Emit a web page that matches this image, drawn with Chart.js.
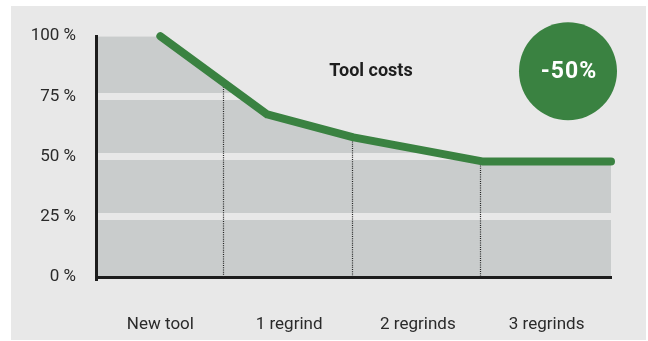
<!DOCTYPE html>
<html>
<head>
<meta charset="utf-8">
<script src="https://cdn.jsdelivr.net/npm/chart.js@4/dist/chart.umd.min.js"></script>
<style>
  body { margin: 0; background: #fff; }
  #wrap { position: absolute; left: 11px; top: 6px; width: 635px; height: 334px; background: #e8e8e8; }
</style>
</head>
<body>
<div id="wrap"><canvas id="costChart" width="635" height="334"></canvas></div>
<script>
// categories along the bottom
var stages = ['New tool', '1 regrind', '2 regrinds', '3 regrinds'];
// cost curve: position along the stages (0..4) and cost in %
var costX = [0.5, 1.33, 2, 3, 4];
var costY = [100, 67.5, 58, 48, 48];
var yTicks = [0, 25, 50, 75, 100];
var titleText = 'Tool costs';
var savingText = '-50%';

var green = '#3a8241';
var areaGray = '#c9cccc';
var bgGray = '#e8e8e8';

var linePoints = costX.map(function(x, i) { return { x: x, y: costY[i] }; });
// the shaded area starts at the axis at the first cost level
var areaPoints = [{ x: 0, y: costY[0] }].concat(linePoints);

// dotted separators between the stages, from the axis up to the curve
var stageLines = {
    id: 'stageLines',
    beforeDatasetsDraw: function(chart) {
        var ctx = chart.ctx;
        var xs = chart.scales.x;
        var pts = chart.getDatasetMeta(1).data;
        var bottom = chart.chartArea.bottom;
        ctx.save();
        ctx.strokeStyle = '#222';
        ctx.lineWidth = 1.2;
        ctx.setLineDash([1, 1.2]);
        for (var b = 1; b < stages.length; b++) {
            var px = Math.round(xs.getPixelForValue(b)) - 1.5;
            var top = bottom;
            for (var i = 0; i < pts.length - 1; i++) {
                if (pts[i].x <= px && pts[i + 1].x >= px) {
                    var t = (px - pts[i].x) / (pts[i + 1].x - pts[i].x);
                    top = pts[i].y + t * (pts[i + 1].y - pts[i].y);
                }
            }
            ctx.beginPath();
            ctx.moveTo(px, top);
            ctx.lineTo(px, bottom);
            ctx.stroke();
        }
        ctx.restore();
    }
};

// title and the green badge
var annotations = {
    id: 'annotations',
    afterDraw: function(chart) {
        var ctx = chart.ctx;
        var a = chart.chartArea;
        ctx.save();
        ctx.fillStyle = '#1e1e1e';
        ctx.font = 'bold 18px Roboto';
        ctx.textAlign = 'center';
        ctx.textBaseline = 'middle';
        ctx.fillText(titleText, a.left + 275, a.top + 35);

        ctx.beginPath();
        ctx.arc(a.left + 472, a.top + 35, 49, 0, Math.PI * 2);
        ctx.fillStyle = green;
        ctx.fill();
        ctx.fillStyle = '#fff';
        ctx.font = 'bold 23px Roboto';
        ctx.letterSpacing = '1px';
        ctx.fillText(savingText, a.left + 473, a.top + 36);
        ctx.restore();
    }
};

var ctx = document.getElementById('costChart').getContext('2d');
var costChart = new Chart(ctx, {
    type: 'line',
    data: {
        datasets: [{
            data: areaPoints,
            borderWidth: 0,
            pointRadius: 0,
            backgroundColor: areaGray,
            fill: 'origin'
        }, {
            data: linePoints,
            borderColor: green,
            borderWidth: 8,
            borderCapStyle: 'round',
            borderJoinStyle: 'round',
            pointRadius: 0,
            clip: false,
            fill: false
        }]
    },
    options: {
        responsive: false,
        animation: false,
        layout: { padding: { top: 27, right: 35, left: 0, bottom: 0 } },
        plugins: {
            legend: { display: false },
            tooltip: { enabled: false },
            filler: { drawTime: 'beforeDraw' }
        },
        scales: {
            x: {
                type: 'linear',
                min: 0,
                max: stages.length,
                afterBuildTicks: function(scale) {
                    scale.ticks = stages.map(function(s, i) { return { value: i + 0.5 }; });
                },
                afterFit: function(scale) { scale.height = 63; },
                grid: { display: false, drawTicks: false },
                border: { display: true, color: '#1c1c1c', width: 3 },
                ticks: {
                    padding: 38,
                    color: '#2a2a2a',
                    font: { family: 'Roboto', size: 17 },
                    callback: function(v) { return stages[Math.floor(v)]; }
                }
            },
            y: {
                min: 0,
                max: 100,
                afterBuildTicks: function(scale) {
                    scale.ticks = yTicks.map(function(v) { return { value: v }; });
                },
                afterFit: function(scale) { scale.width = 85; },
                grid: {
                    drawTicks: false,
                    lineWidth: 7,
                    color: function(c) {
                        var v = c.tick ? c.tick.value : 0;
                        return (v > 0 && v < 100) ? bgGray : 'transparent';
                    }
                },
                border: { display: true, color: '#1c1c1c', width: 3 },
                ticks: {
                    padding: 20,
                    color: '#2a2a2a',
                    font: { family: 'Roboto', size: 17 },
                    callback: function(v) { return v + ' %'; }
                }
            }
        }
    },
    plugins: [stageLines, annotations]
});
</script>
</body>
</html>
